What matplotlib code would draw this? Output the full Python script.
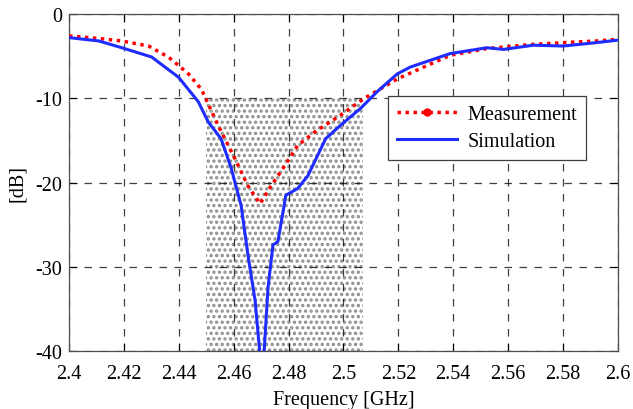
import matplotlib
matplotlib.use("Agg")
import matplotlib.pyplot as plt
from matplotlib.lines import Line2D

plt.rcParams['font.family'] = ['Liberation Serif', 'DejaVu Serif']
plt.rcParams['axes.unicode_minus'] = False
plt.rcParams['hatch.linewidth'] = 1.6

# Measurement (red dotted)
meas_freq = [2.400, 2.4109, 2.4192, 2.429, 2.4362, 2.4399, 2.4435, 2.4471, 2.4482,
             2.4543, 2.4605, 2.4652, 2.4696, 2.4736, 2.4786, 2.4833, 2.4895, 2.4989,
             2.5076, 2.5123, 2.5196, 2.5388, 2.5522, 2.5692, 2.580, 2.592, 2.600]
meas_db = [-2.6, -2.9, -3.2, -3.8, -5.1, -6.1, -7.1, -8.5, -8.9,
           -13.2, -17.2, -20.4, -22.5, -20.4, -18.0, -15.6, -14.0, -12.0,
           -10.0, -9.1, -7.7, -4.9, -4.1, -3.6, -3.4, -3.2, -3.0]

# Simulation (blue solid)
sim_freq = [2.400, 2.4109, 2.4192, 2.4301, 2.4399, 2.4471, 2.4507, 2.4554, 2.4591,
            2.4627, 2.4652, 2.4678, 2.4696, 2.4710, 2.4725, 2.4743, 2.4761, 2.479,
            2.4833, 2.487, 2.4935, 2.4989, 2.5062, 2.5123, 2.5196, 2.5243, 2.5388,
            2.5522, 2.5583, 2.5692, 2.580, 2.592, 2.600]
sim_db = [-2.8, -3.2, -4.0, -5.1, -7.5, -10.4, -12.8, -14.8, -18.3,
          -22.7, -28.6, -34.0, -40.5, -40.5, -32.5, -27.4, -27.0, -21.5,
          -20.7, -19.2, -14.8, -13.2, -11.2, -9.2, -7.1, -6.3, -4.7,
          -4.0, -4.2, -3.7, -3.8, -3.4, -3.1]

band = [2.450, 2.507]
band_top = -10
x_ticks = [2.4, 2.42, 2.44, 2.46, 2.48, 2.5, 2.52, 2.54, 2.56, 2.58, 2.6]
x_tick_labels = ['2.4', '2.42', '2.44', '2.46', '2.48', '2.5', '2.52', '2.54', '2.56', '2.58', '2.6']
y_ticks = [-40, -30, -20, -10, 0]

fig = plt.figure(figsize=(6.33, 4.10), dpi=100)
ax = fig.add_axes([0.109, 0.141, 0.8673, 0.8224])

ax.fill_between(band, [band_top, band_top], [-40, -40], facecolor='white',
                edgecolor='0.55', hatch='...', linewidth=0, zorder=1)

dot = (0, (1, 1.3))
ax.plot(meas_freq, meas_db, color='red', linestyle=dot, linewidth=2.5, zorder=3)
ax.plot(sim_freq, sim_db, color='#1f2cff', linestyle='-', linewidth=2.2, zorder=4)

ax.set_xlim(2.4, 2.6)
ax.set_ylim(-40, 0)
ax.set_xticks(x_ticks)
ax.set_xticklabels(x_tick_labels)
ax.set_yticks(y_ticks)
ax.tick_params(direction='in', top=True, right=True, length=6, width=0.8,
               labelsize=14.5)
ax.tick_params(axis='x', pad=9)
ax.tick_params(axis='y', pad=5)
ax.grid(True, color='black', linestyle=(0, (6, 6)), linewidth=0.9, alpha=0.75)
for s in ax.spines.values():
    s.set_linewidth(0.9)
    s.set_color('0.3')

ax.set_xlabel('Frequency [GHz]', fontsize=14.5, labelpad=5)
ax.set_ylabel('[dB]', fontsize=14.5, labelpad=6)

handles = [Line2D([], [], color='red', linestyle=dot, linewidth=2.5,
                  marker='o', markersize=5),
           Line2D([], [], color='#1f2cff', linewidth=2.2)]
leg = ax.legend(handles, ['Measurement', 'Simulation'], loc='upper left',
                bbox_to_anchor=(0.581, 0.757), borderaxespad=0, fontsize=14.5,
                frameon=True, fancybox=False, edgecolor='0.25', framealpha=1,
                handlelength=3.0, handletextpad=0.5, borderpad=0.45,
                labelspacing=0.4, numpoints=1)
leg.get_frame().set_linewidth(0.9)

fig.savefig('out.png', dpi=100)
